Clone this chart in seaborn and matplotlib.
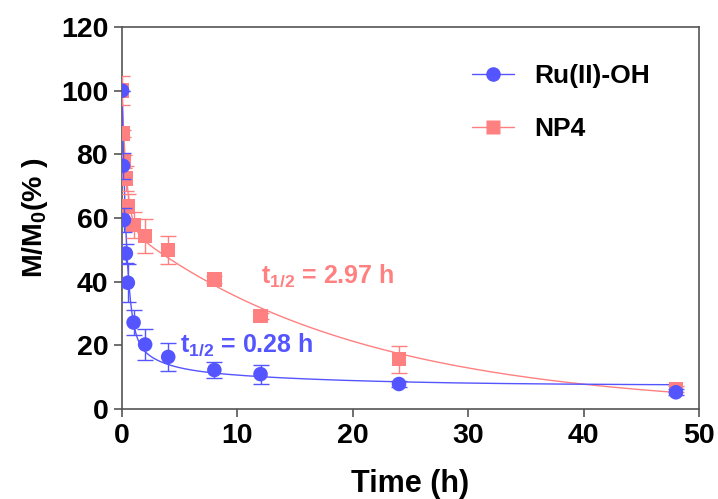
import numpy as np
import matplotlib
matplotlib.use('Agg')
import matplotlib.pyplot as plt
import seaborn as sns
from matplotlib.lines import Line2D

# data
time_h = [0, 0.083, 0.167, 0.33, 0.5, 1, 2, 4, 8, 12, 24, 48]
ru_mean = [100, 76.4, 59.4, 48.9, 39.7, 27.2, 20.3, 16.4, 12.3, 11.0, 7.9, 5.3]
ru_sd = [0, 4, 3.7, 3, 6, 4, 4.8, 4.5, 2.4, 3, 1, 1]
np4_mean = [100, 86.6, 77.7, 72.5, 63.6, 57.8, 54.4, 50.0, 40.7, 29.2, 15.7, 6.3]
np4_sd = [4.5, 1, 2, 4, 4, 4, 5.3, 4.3, 1, 1, 4.2, 1]

# multi-phase decay fit parameters: (amplitude, rate) pairs + plateau
ru_fit = [(73.9, 2.5), (12.0, 0.5), (6.6, 0.075)]
ru_plateau = 7.5
np4_fit = [(42.0, 2.5), (58.0, 0.05)]
np4_plateau = 0.0

blue = '#5555FF'
red = '#FF8080'

sns.set_style('ticks')
plt.rcParams['font.family'] = ['Liberation Sans', 'DejaVu Sans']
plt.rcParams['font.weight'] = 'bold'
plt.rcParams['text.color'] = 'black'
plt.rcParams['axes.labelcolor'] = 'black'
plt.rcParams['xtick.color'] = 'black'
plt.rcParams['ytick.color'] = 'black'
plt.rcParams['mathtext.fontset'] = 'custom'
plt.rcParams['mathtext.rm'] = 'Liberation Sans:bold'
plt.rcParams['mathtext.bf'] = 'Liberation Sans:bold'
plt.rcParams['mathtext.it'] = 'Liberation Sans:bold'

fig = plt.figure(figsize=(7.18, 4.99), dpi=100)
ax = fig.add_axes([0.170, 0.180, 0.8035, 0.766])


def decay(t, phases, plateau):
    y = np.full_like(t, plateau)
    for a, k in phases:
        y = y + a * np.exp(-k * t)
    return y


tt = np.linspace(0, 48, 800)
sns.lineplot(x=tt, y=decay(tt, np4_fit, np4_plateau), color=red, lw=1.0,
             ax=ax, zorder=2)
sns.lineplot(x=tt, y=decay(tt, ru_fit, ru_plateau), color=blue, lw=1.0,
             ax=ax, zorder=3)

ax.errorbar(time_h, np4_mean, yerr=np4_sd, fmt='none', ecolor=red,
            elinewidth=1.0, capsize=6, capthick=1.0, zorder=4)
sns.scatterplot(x=time_h, y=np4_mean, marker='s', s=110, color=red,
                edgecolor='none', ax=ax, zorder=5)
ax.errorbar(time_h, ru_mean, yerr=ru_sd, fmt='none', ecolor=blue,
            elinewidth=1.0, capsize=6, capthick=1.0, zorder=6)
sns.scatterplot(x=time_h, y=ru_mean, marker='o', s=110, color=blue,
                edgecolor='none', ax=ax, zorder=7)

ax.set_xlim(0, 50)
ax.set_ylim(0, 120)
ax.set_xticks(range(0, 51, 10))
ax.set_yticks(range(0, 121, 20))
for s in ax.spines.values():
    s.set_color('#555555')
    s.set_linewidth(1.2)
ax.tick_params(direction='out', length=6, width=1.2, color='#555555',
               labelcolor='black', labelsize=20.5, pad=4)
for lab in ax.get_xticklabels() + ax.get_yticklabels():
    lab.set_fontweight('bold')

ax.set_xlabel('Time (h)', fontsize=22, fontweight='bold', labelpad=14)
ax.set_ylabel(r'M/M$_0$(% )', fontsize=20.5, fontweight='bold', labelpad=8)

ax.text(12.0, 39.6, r'$\mathregular{t_{1/2}}$ = 2.97 h', color=red,
        fontsize=18, fontweight='bold')
ax.text(5.0, 18.0, r'$\mathregular{t_{1/2}}$ = 0.28 h', color=blue,
        fontsize=18, fontweight='bold')

handles = [
    Line2D([0], [0], color=blue, lw=1.0, marker='o', markersize=10.5,
           markeredgecolor='none'),
    Line2D([0], [0], color=red, lw=1.0, marker='s', markersize=10.5,
           markeredgecolor='none'),
]
leg = ax.legend(handles, ['Ru(II)-OH', 'NP4'], loc='upper left',
                bbox_to_anchor=(0.607, 0.902), frameon=False,
                prop={'size': 19, 'weight': 'bold'}, handlelength=1.6,
                labelspacing=1.08, handletextpad=0.75, borderpad=0,
                borderaxespad=0)

fig.savefig('out.png', dpi=100)
